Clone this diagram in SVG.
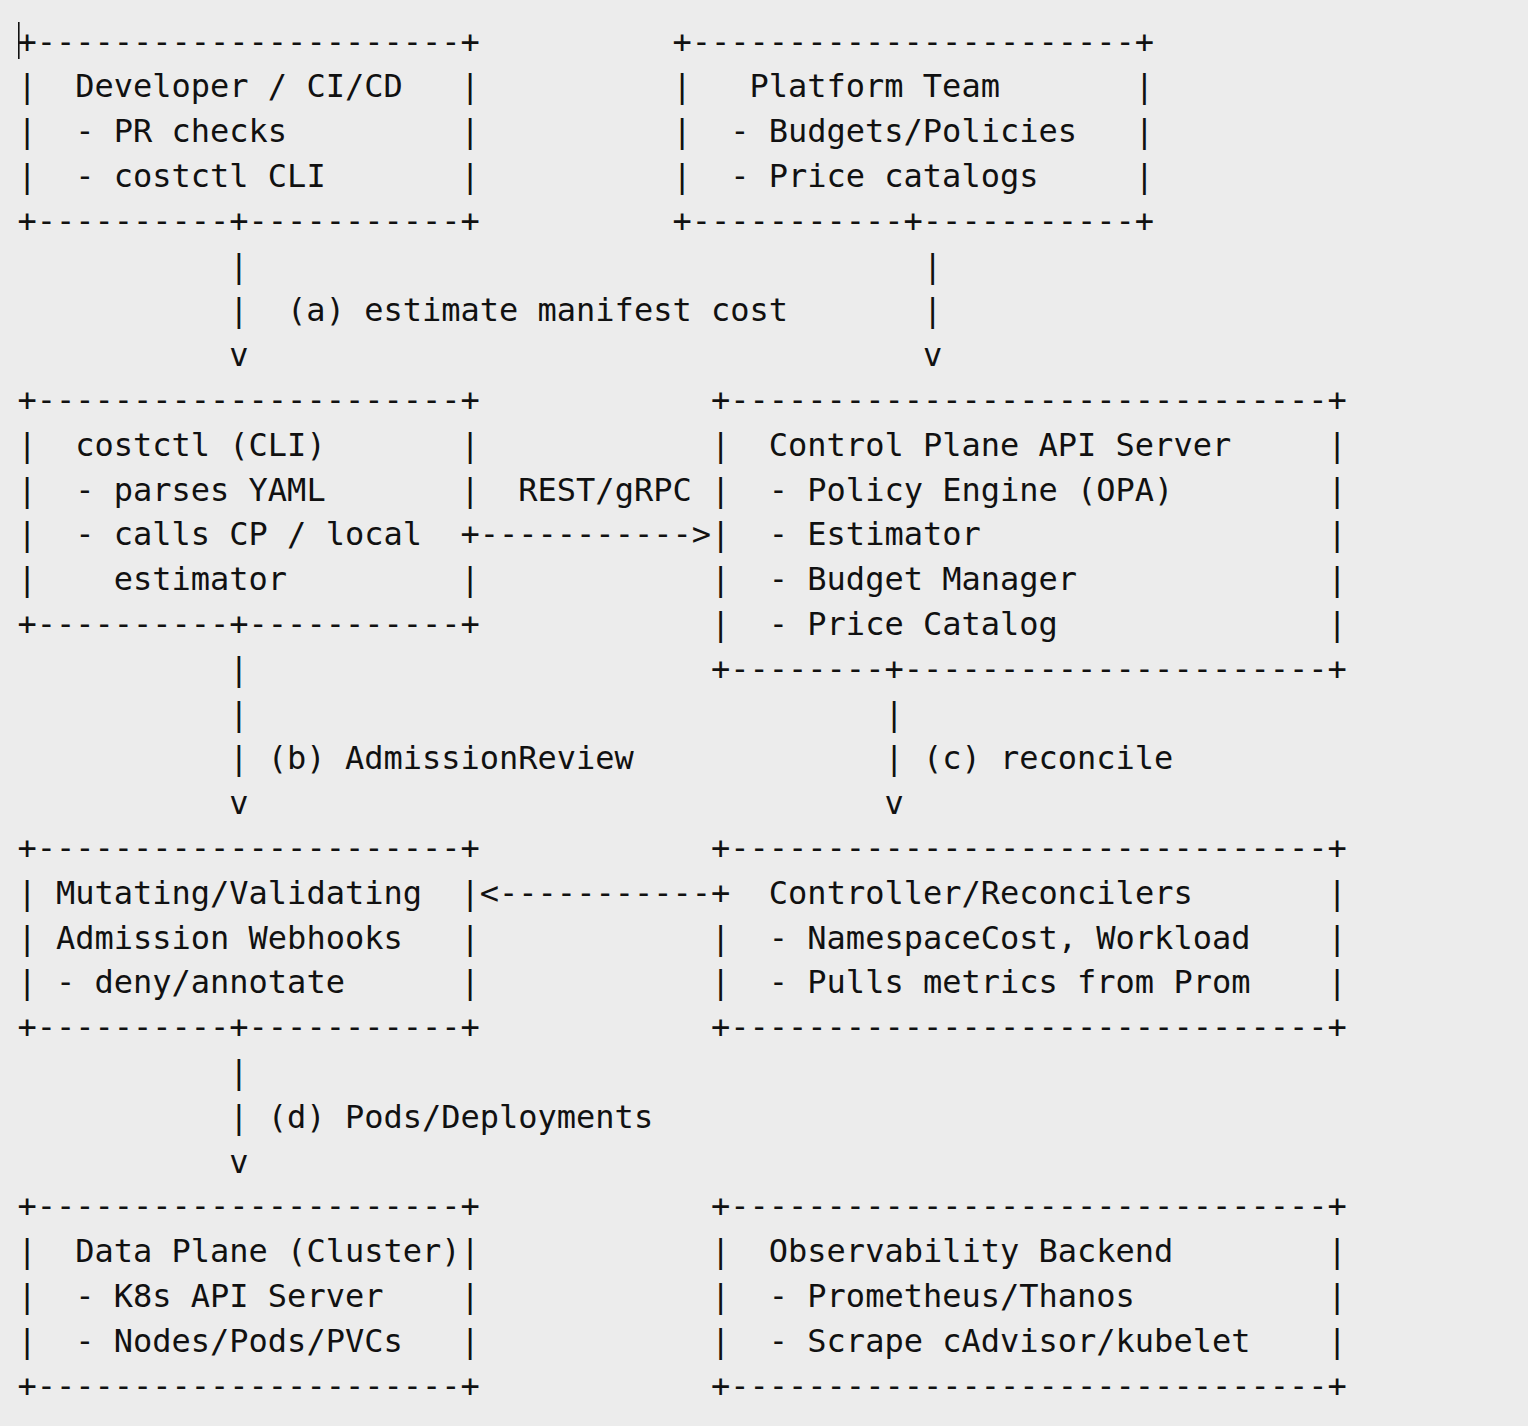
<svg xmlns="http://www.w3.org/2000/svg" width="1528" height="1426" viewBox="0 0 1528 1426" xml:space="preserve">
<style>
text { font-family: "DejaVu Sans Mono", "Liberation Mono", monospace; font-size: 32px; fill: #111111; white-space: pre; }
</style>
<rect x="0" y="0" width="1528" height="1426" fill="#ececec"/>
<rect x="18" y="22" width="1.6" height="37" fill="#111111"/>
<g id="dev">
<text><tspan x="17.4" y="52.5">+----------------------+</tspan><tspan x="17.4" y="97.3">|  Developer / CI/CD   |</tspan><tspan x="17.4" y="142.1">|  - PR checks         |</tspan><tspan x="17.4" y="186.9">|  - costctl CLI       |</tspan><tspan x="17.4" y="231.7">+----------+-----------+</tspan></text>
</g>
<g id="platform">
<text><tspan x="672.4" y="52.5">+-----------------------+</tspan><tspan x="672.4" y="97.3">|   Platform Team       |</tspan><tspan x="672.4" y="142.1">|  - Budgets/Policies   |</tspan><tspan x="672.4" y="186.9">|  - Price catalogs     |</tspan><tspan x="672.4" y="231.7">+-----------+-----------+</tspan></text>
</g>
<g id="costctl">
<text><tspan x="17.4" y="410.9">+----------------------+</tspan><tspan x="17.4" y="455.7">|  costctl (CLI)       |</tspan><tspan x="17.4" y="500.5">|  - parses YAML       |</tspan><tspan x="17.4" y="545.3">|  - calls CP / local</tspan><tspan x="17.4" y="590.1">|    estimator         |</tspan><tspan x="17.4" y="634.9">+----------+-----------+</tspan></text>
</g>
<g id="control-plane">
<text><tspan x="711.0" y="410.9">+-------------------------------+</tspan><tspan x="711.0" y="455.7">|  Control Plane API Server     |</tspan><tspan x="711.0" y="500.5">|  - Policy Engine (OPA)        |</tspan><tspan x="711.0" y="545.3">|  - Estimator                  |</tspan><tspan x="711.0" y="590.1">|  - Budget Manager             |</tspan><tspan x="711.0" y="634.9">|  - Price Catalog              |</tspan><tspan x="711.0" y="679.7">+--------+----------------------+</tspan></text>
</g>
<g id="webhooks">
<text><tspan x="17.4" y="858.9">+----------------------+</tspan><tspan x="17.4" y="903.7">| Mutating/Validating  |</tspan><tspan x="17.4" y="948.5">| Admission Webhooks   |</tspan><tspan x="17.4" y="993.3">| - deny/annotate      |</tspan><tspan x="17.4" y="1038.1">+----------+-----------+</tspan></text>
</g>
<g id="controller">
<text><tspan x="711.0" y="858.9">+-------------------------------+</tspan><tspan x="730.3" y="903.7">  Controller/Reconcilers       |</tspan><tspan x="711.0" y="948.5">|  - NamespaceCost, Workload    |</tspan><tspan x="711.0" y="993.3">|  - Pulls metrics from Prom    |</tspan><tspan x="711.0" y="1038.1">+-------------------------------+</tspan></text>
</g>
<g id="data-plane">
<text><tspan x="17.4" y="1217.3">+----------------------+</tspan><tspan x="17.4" y="1262.1">|  Data Plane (Cluster)|</tspan><tspan x="17.4" y="1306.9">|  - K8s API Server    |</tspan><tspan x="17.4" y="1351.7">|  - Nodes/Pods/PVCs   |</tspan><tspan x="17.4" y="1396.5">+----------------------+</tspan></text>
</g>
<g id="observability">
<text><tspan x="711.0" y="1217.3">+-------------------------------+</tspan><tspan x="711.0" y="1262.1">|  Observability Backend        |</tspan><tspan x="711.0" y="1306.9">|  - Prometheus/Thanos          |</tspan><tspan x="711.0" y="1351.7">|  - Scrape cAdvisor/kubelet    |</tspan><tspan x="711.0" y="1396.5">+-------------------------------+</tspan></text>
</g>
<g id="connectors">
<text><tspan x="229.3" y="276.5">|</tspan><tspan x="229.3" y="321.3">|  (a) estimate manifest cost</tspan><tspan x="229.3" y="366.1">v</tspan></text>
<text><tspan x="922.9" y="276.5">|</tspan><tspan x="922.9" y="321.3">|</tspan><tspan x="922.9" y="366.1">v</tspan></text>
<text><tspan x="518.3" y="500.5">REST/gRPC</tspan><tspan x="460.5" y="545.3">+-----------&gt;</tspan></text>
<text><tspan x="229.3" y="679.7">|</tspan><tspan x="229.3" y="724.5">|</tspan><tspan x="229.3" y="769.3">| (b) AdmissionReview</tspan><tspan x="229.3" y="814.1">v</tspan></text>
<text><tspan x="884.4" y="724.5">|</tspan><tspan x="884.4" y="769.3">| (c) reconcile</tspan><tspan x="884.4" y="814.1">v</tspan></text>
<text><tspan x="479.8" y="903.7">&lt;-----------+</tspan></text>
<text><tspan x="229.3" y="1082.9">|</tspan><tspan x="229.3" y="1127.7">| (d) Pods/Deployments</tspan><tspan x="229.3" y="1172.5">v</tspan></text>
</g>
</svg>
